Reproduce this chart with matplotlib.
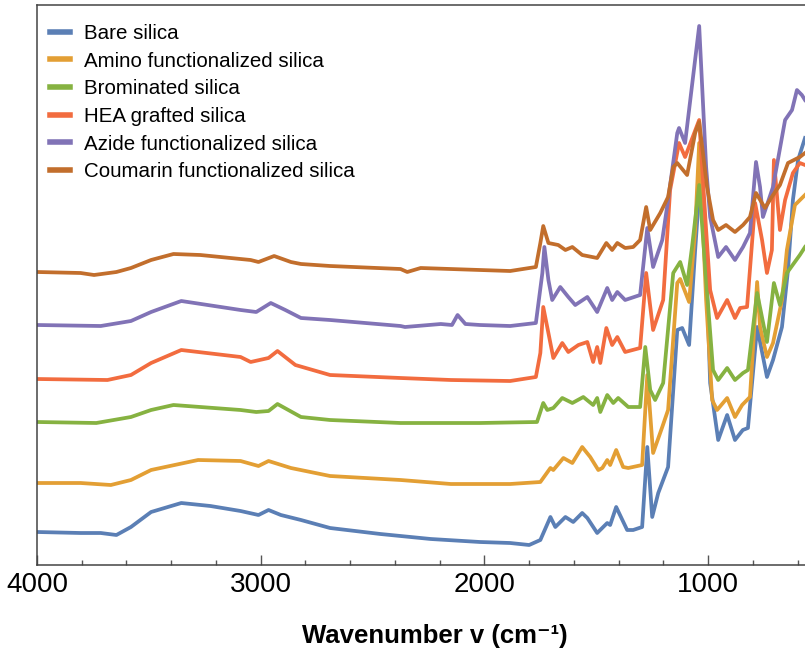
import numpy as np
import matplotlib
matplotlib.use("Agg")
import matplotlib.pyplot as plt
from matplotlib.ticker import MultipleLocator

plt.rcParams['font.family'] = ['Liberation Sans', 'DejaVu Sans']

# FTIR spectra, key points (wavenumber cm-1, absorbance a.u.)
bare_wn = [4000, 3805, 3715, 3645, 3580, 3490, 3355, 3225, 3090, 3010, 2965, 2910, 2820, 2690,
           2465, 2240, 2020, 1885, 1800, 1750, 1705, 1683, 1638, 1603, 1563, 1540, 1496, 1451,
           1438, 1411, 1362, 1335, 1295, 1272, 1250, 1223, 1179, 1138, 1116, 1085, 1058, 1036,
           1009, 991, 955, 915, 880, 845, 822, 781, 737, 710, 670, 643, 621, 598, 567]
bare_y = [0.33, 0.32, 0.32, 0.30, 0.38, 0.53, 0.62, 0.59, 0.54, 0.50, 0.55, 0.50, 0.45, 0.37,
          0.31, 0.26, 0.23, 0.22, 0.20, 0.25, 0.48, 0.38, 0.48, 0.43, 0.52, 0.47, 0.32, 0.42,
          0.40, 0.58, 0.35, 0.35, 0.38, 1.18, 0.48, 0.72, 0.98, 2.35, 2.37, 2.20, 3.15, 3.85,
          3.05, 1.82, 1.25, 1.50, 1.25, 1.35, 1.37, 2.38, 1.88, 2.05, 2.38, 2.95, 3.65, 4.05, 4.27]

amino_wn = [4000, 3805, 3670, 3580, 3490, 3280, 3090, 3010, 2965, 2865, 2690, 2375, 2150, 1885,
            1750, 1705, 1692, 1647, 1607, 1563, 1527, 1491, 1473, 1451, 1438, 1411, 1380, 1357,
            1295, 1272, 1246, 1205, 1179, 1138, 1125, 1085, 1058, 1040, 1009, 982, 960, 915,
            880, 848, 813, 781, 768, 737, 710, 670, 648, 612, 567]
amino_y = [0.82, 0.82, 0.80, 0.85, 0.95, 1.05, 1.04, 0.99, 1.04, 0.97, 0.89, 0.85, 0.81, 0.81,
           0.83, 0.97, 0.95, 1.07, 1.02, 1.18, 1.08, 0.95, 0.97, 1.05, 1.00, 1.15, 0.98, 0.97,
           1.00, 1.90, 1.12, 1.38, 1.55, 2.82, 2.86, 2.63, 3.35, 4.22, 2.65, 1.65, 1.55, 1.67,
           1.48, 1.60, 1.68, 2.83, 2.38, 2.08, 2.22, 2.65, 3.15, 3.60, 3.70]

brom_wn = [4000, 3735, 3580, 3490, 3390, 3090, 3020, 2965, 2925, 2820, 2690, 2375, 2020, 1765,
           1737, 1719, 1692, 1652, 1607, 1558, 1514, 1496, 1482, 1451, 1424, 1402, 1357, 1304,
           1281, 1259, 1237, 1201, 1156, 1125, 1094, 1072, 1040, 1009, 978, 955, 915, 880,
           844, 822, 781, 737, 706, 679, 648, 590, 567]
brom_y = [1.43, 1.42, 1.48, 1.55, 1.60, 1.55, 1.53, 1.54, 1.61, 1.48, 1.45, 1.42, 1.42, 1.43,
          1.62, 1.55, 1.57, 1.67, 1.62, 1.68, 1.60, 1.67, 1.53, 1.70, 1.62, 1.67, 1.58, 1.58,
          2.18, 1.75, 1.65, 1.82, 2.92, 3.03, 2.80, 3.18, 3.80, 2.85, 1.95, 1.85, 1.97, 1.85,
          1.92, 1.95, 2.72, 2.23, 2.82, 2.60, 2.92, 3.10, 3.18]

hea_wn = [4000, 3685, 3580, 3490, 3355, 3090, 3045, 2965, 2925, 2845, 2690, 2375, 2150, 1885,
          1770, 1750, 1737, 1714, 1692, 1652, 1625, 1580, 1540, 1514, 1496, 1482, 1455, 1429,
          1406, 1371, 1304, 1277, 1246, 1201, 1170, 1130, 1103, 1040, 1009, 991, 960, 915,
          880, 857, 826, 790, 759, 737, 715, 706, 679, 656, 621, 590, 567]
hea_y = [1.86, 1.85, 1.90, 2.02, 2.15, 2.08, 2.03, 2.07, 2.14, 2.00, 1.90, 1.87, 1.85, 1.84,
         1.88, 2.12, 2.58, 2.32, 2.07, 2.22, 2.13, 2.20, 2.23, 2.03, 2.18, 2.02, 2.37, 2.20,
         2.28, 2.13, 2.17, 2.92, 2.35, 2.65, 3.75, 4.22, 4.08, 4.45, 3.35, 2.75, 2.47, 2.65,
         2.47, 2.57, 2.58, 3.62, 3.25, 2.92, 3.15, 4.05, 3.35, 3.65, 3.92, 4.02, 4.00]

azide_wn = [4000, 3715, 3580, 3490, 3355, 3090, 3020, 2955, 2890, 2820, 2690, 2375, 2355, 2195,
            2145, 2120, 2085, 2020, 1885, 1770, 1741, 1732, 1714, 1697, 1661, 1625, 1594, 1540,
            1496, 1451, 1429, 1406, 1371, 1304, 1272, 1246, 1205, 1179, 1138, 1130, 1103, 1040,
            1009, 991, 955, 920, 880, 844, 813, 786, 768, 755, 710, 656, 625, 603, 581, 567]
azide_y = [2.40, 2.39, 2.44, 2.53, 2.64, 2.55, 2.53, 2.62, 2.55, 2.47, 2.45, 2.39, 2.38, 2.41,
           2.40, 2.50, 2.41, 2.40, 2.39, 2.42, 2.92, 3.18, 2.85, 2.65, 2.78, 2.68, 2.60, 2.68,
           2.53, 2.77, 2.65, 2.73, 2.65, 2.70, 3.37, 2.98, 3.25, 3.65, 4.32, 4.37, 4.22, 5.39,
           3.98, 3.48, 3.08, 3.18, 3.05, 3.18, 3.32, 4.03, 3.78, 3.48, 3.78, 4.45, 4.55, 4.75,
           4.70, 4.65]

coum_wn = [4000, 3805, 3745, 3645, 3580, 3490, 3390, 3270, 3045, 3010, 2940, 2865, 2820, 2690,
           2375, 2345, 2285, 2020, 1885, 1770, 1750, 1737, 1714, 1670, 1638, 1607, 1563, 1496,
           1455, 1429, 1406, 1371, 1335, 1304, 1277, 1259, 1214, 1179, 1156, 1138, 1094, 1058,
           1040, 1005, 978, 955, 920, 880, 844, 813, 786, 746, 710, 679, 643, 590, 567]
coum_y = [2.93, 2.92, 2.90, 2.93, 2.97, 3.05, 3.11, 3.10, 3.05, 3.03, 3.09, 3.03, 3.01, 2.99,
          2.96, 2.93, 2.97, 2.95, 2.94, 2.98, 3.22, 3.39, 3.22, 3.20, 3.15, 3.18, 3.10, 3.07,
          3.22, 3.15, 3.22, 3.17, 3.18, 3.25, 3.58, 3.35, 3.52, 3.68, 3.98, 4.02, 3.90, 4.32,
          4.43, 3.78, 3.45, 3.35, 3.40, 3.33, 3.40, 3.48, 3.72, 3.57, 3.70, 3.80, 4.02, 4.08, 4.12]

labels = ['Bare silica', 'Amino functionalized silica', 'Brominated silica',
          'HEA grafted silica', 'Azide functionalized silica', 'Coumarin functionalized silica']
colors = ['#5B7FB5', '#E39F34', '#86B241', '#F26C3F', '#8173B6', '#C26E2C']
series = [(bare_wn, bare_y), (amino_wn, amino_y), (brom_wn, brom_y),
          (hea_wn, hea_y), (azide_wn, azide_y), (coum_wn, coum_y)]

fig = plt.figure(figsize=(8.05, 6.49), dpi=100)
ax = fig.add_axes([37 / 805, 84 / 649, 768 / 805, 560 / 649])

for (wn, y), lab, c in zip(series, labels, colors):
    ax.plot(wn, y, color=c, lw=2.7, label=lab, solid_joinstyle='round')

ax.set_xlim(4000, 567)
ax.set_ylim(0, 5.6)
ax.xaxis.set_major_locator(MultipleLocator(1000))
ax.xaxis.set_minor_locator(MultipleLocator(200))
ax.tick_params(axis='x', which='major', direction='in', length=7, width=1, colors='#555555',
               labelcolor='black', labelsize=20, pad=5)
ax.tick_params(axis='x', which='minor', direction='in', length=3.5, width=1, colors='#555555')
ax.set_yticks([])
for s in ['left', 'top', 'bottom']:
    ax.spines[s].set_color('#444444')
    ax.spines[s].set_linewidth(1.1)
ax.spines['right'].set_visible(False)

# axis label sits a little right of centre in the original (figure was cropped on the right)
ax.set_xlabel('Wavenumber v (cm\u207b\u00b9)', fontsize=18.5, fontweight='bold',
              family=['Liberation Sans', 'DejaVu Sans'])
ax.xaxis.set_label_coords(0.518, -0.105)

leg = ax.legend(loc='upper left', bbox_to_anchor=(0.017, 0.966), borderaxespad=0, borderpad=0,
                frameon=False, fontsize=14.8, handlelength=0.95, handletextpad=0.7,
                labelspacing=0.42)
for h in leg.get_lines():
    h.set_linewidth(4)

fig.savefig('out.png', dpi=100)
